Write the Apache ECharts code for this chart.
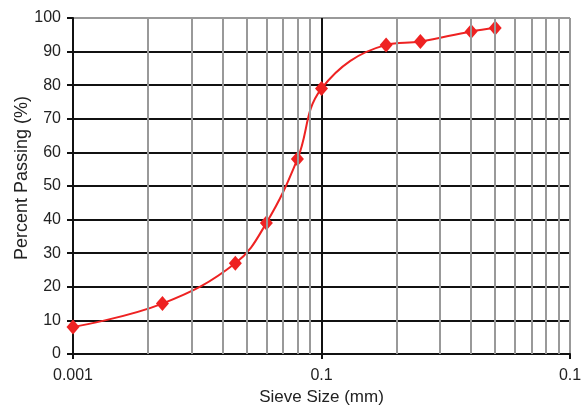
<!DOCTYPE html>
<html>
<head>
<meta charset="utf-8">
<script src="https://cdn.jsdelivr.net/npm/echarts@6/dist/echarts.min.js"></script>
<style>
html,body{margin:0;padding:0;background:#fff;}
#c{width:587px;height:406px;}
</style>
</head>
<body>
<div id="c"></div>
<script>
// Data
var sieveSize = [0.01, 0.0229, 0.045, 0.06, 0.08, 0.1, 0.182, 0.25, 0.4, 0.5];
var percentPassing = [8, 15, 27, 39, 58, 79, 92, 93, 96, 97];
var xTickLabels = ["0.001", "0.1", "0.1"];
var minorGridX = [0.02, 0.03, 0.04, 0.05, 0.06, 0.07, 0.08, 0.09, 0.2, 0.3, 0.4, 0.5, 0.6, 0.7, 0.8, 0.9];
var yTicks = [0, 10, 20, 30, 40, 50, 60, 70, 80, 90, 100];

var chart = echarts.init(document.getElementById('c'), null, {renderer: 'canvas'});
var font = 'Liberation Sans, Arial, sans-serif';
var pts = sieveSize.map(function (x, i) { return [x, percentPassing[i]]; });
var hColors = yTicks.map(function (v, i) { return i === yTicks.length - 1 ? '#999' : '#111'; });

chart.setOption({
  animation: false,
  backgroundColor: '#fff',
  grid: {left: 73, right: 17, top: 18, bottom: 52, containLabel: false, outerBoundsMode: 'none'},
  xAxis: {
    type: 'log', logBase: 10, min: 0.01, max: 1, z: 2,
    name: 'Sieve Size (mm)', nameLocation: 'middle', nameGap: 29,
    nameTextStyle: {fontFamily: font, fontSize: 17, color: '#222'},
    axisLine: {show: true, lineStyle: {color: '#111', width: 2}},
    axisTick: {show: true, length: 5, lineStyle: {color: '#111', width: 2}},
    axisLabel: {fontFamily: font, fontSize: 16, color: '#222', margin: 14,
      formatter: function (v, i) { return xTickLabels[i]; }},
    splitLine: {show: true, lineStyle: {color: ['#111', '#111', '#999'], width: 2}},
    minorTick: {show: false}
  },
  yAxis: {
    type: 'value', min: 0, max: 100, interval: 10, z: 2,
    name: 'Percent Passing (%)', nameLocation: 'middle', nameGap: 42,
    nameMoveOverlap: false,
    nameTextStyle: {fontFamily: font, fontSize: 18, color: '#222', padding: [0, 0, 0, 16]},
    axisLine: {show: true, lineStyle: {color: '#111', width: 2}},
    axisTick: {show: true, length: 6, lineStyle: {color: '#111', width: 2}},
    axisLabel: {fontFamily: font, fontSize: 16, color: '#222', margin: 12},
    splitLine: {show: true, lineStyle: {color: hColors, width: 2}}
  },
  series: [
    {
      type: 'line', data: [], z: 1, silent: true,
      markLine: {
        silent: true, symbol: 'none', animation: false,
        label: {show: false},
        lineStyle: {color: '#999', width: 2, type: 'solid'},
        data: minorGridX.map(function (v) { return {xAxis: v}; })
      }
    },
    {
      type: 'line', data: pts, z: 3,
      smooth: 0.4,
      symbol: 'diamond', symbolSize: [13, 15],
      lineStyle: {color: '#ee2222', width: 2},
      itemStyle: {color: '#ee2222'}
    }
  ]
});
</script>
</body>
</html>
